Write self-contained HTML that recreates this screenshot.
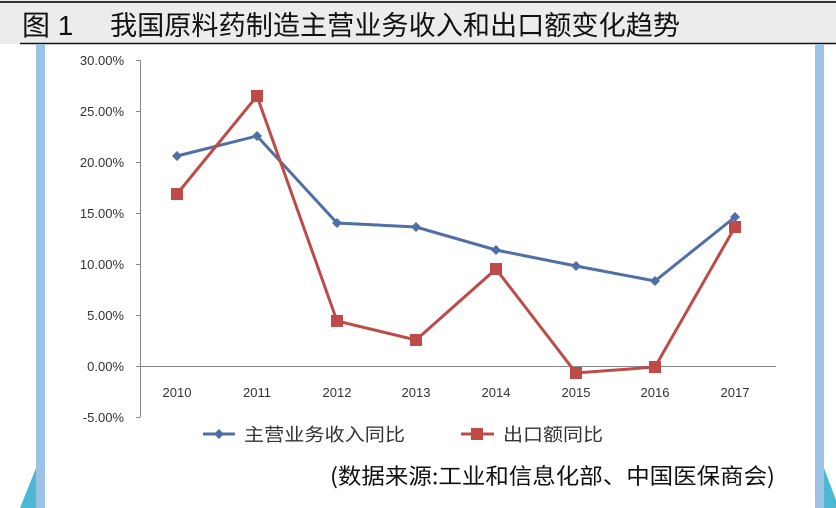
<!DOCTYPE html><html><head><meta charset="utf-8"><style>
body{margin:0;width:836px;height:508px;background:#fff;overflow:hidden;position:relative;font-family:"Liberation Sans","Noto Sans CJK SC",sans-serif}
</style></head><body>
<svg width="836" height="508" style="position:absolute;left:0;top:0">
<rect x="0" y="0" width="836" height="44" fill="#ececec"/>
<line x1="0" y1="2" x2="836" y2="2" stroke="#333" stroke-width="2"/>
<line x1="20" y1="43.5" x2="836" y2="43.5" stroke="#111" stroke-width="1.5"/>
<rect x="36" y="44" width="9" height="464" fill="#9cc3e6"/>
<rect x="815" y="44" width="9" height="464" fill="#9cc3e6"/>
<polygon points="36,468 20,508 36,508" fill="#4cb8d4"/>
<polygon points="824,468 836,500 836,508 824,508" fill="#4cb8d4"/>
<text x="22" y="35" font-size="28" font-family="Liberation Sans,Noto Sans CJK SC,sans-serif" fill="#111">图 1</text>
<text x="110" y="35" font-size="27" textLength="570" lengthAdjust="spacingAndGlyphs" font-family="Noto Sans CJK SC,sans-serif" fill="#111">我国原料药制造主营业务收入和出口额变化趋势</text>
<g stroke="#888" stroke-width="1">
<line x1="140.5" y1="60" x2="140.5" y2="417"/>
<line x1="136" y1="60.5" x2="140" y2="60.5"/><line x1="136" y1="111.5" x2="140" y2="111.5"/><line x1="136" y1="162.5" x2="140" y2="162.5"/><line x1="136" y1="213.5" x2="140" y2="213.5"/><line x1="136" y1="264.5" x2="140" y2="264.5"/><line x1="136" y1="315.5" x2="140" y2="315.5"/><line x1="136" y1="366.5" x2="140" y2="366.5"/><line x1="136" y1="417.5" x2="140" y2="417.5"/>
<line x1="140" y1="366.5" x2="776" y2="366.5"/>
</g>
<g font-size="13" fill="#333" text-anchor="end">
<text x="124" y="65">30.00%</text><text x="124" y="116">25.00%</text><text x="124" y="167">20.00%</text><text x="124" y="218">15.00%</text><text x="124" y="269">10.00%</text><text x="124" y="320">5.00%</text><text x="124" y="371">0.00%</text><text x="124" y="422">-5.00%</text>
</g>
<g font-size="13" fill="#333" text-anchor="middle">
<text x="177" y="397">2010</text><text x="257" y="397">2011</text><text x="337" y="397">2012</text><text x="416" y="397">2013</text><text x="496" y="397">2014</text><text x="576" y="397">2015</text><text x="655" y="397">2016</text><text x="735" y="397">2017</text>
</g>
<polyline points="177,156 257,136 337,223 416,227 496,250 576,266 655,281 735,217" fill="none" stroke="#4f6fa6" stroke-width="3"/>
<g fill="#4f6fa6">
<polygon points="177,151 182,156 177,161 172,156"/><polygon points="257,131 262,136 257,141 252,136"/><polygon points="337,218 342,223 337,228 332,223"/><polygon points="416,222 421,227 416,232 411,227"/><polygon points="496,245 501,250 496,255 491,250"/><polygon points="576,261 581,266 576,271 571,266"/><polygon points="655,276 660,281 655,286 650,281"/><polygon points="735,212 740,217 735,222 730,217"/>
</g>
<polyline points="177,194 257,96 337,321 416,340 496,269 576,373 655,367 735,227" fill="none" stroke="#be4b48" stroke-width="3"/>
<g fill="#be4b48">
<rect x="171" y="188" width="12" height="12"/><rect x="251" y="90" width="12" height="12"/><rect x="331" y="315" width="12" height="12"/><rect x="410" y="334" width="12" height="12"/><rect x="490" y="263" width="12" height="12"/><rect x="570" y="367" width="12" height="12"/><rect x="649" y="361" width="12" height="12"/><rect x="729" y="221" width="12" height="12"/>
</g>
<line x1="203" y1="434" x2="235" y2="434" stroke="#4f6fa6" stroke-width="3"/>
<polygon points="219,429 224,434 219,439 214,434" fill="#4f6fa6"/>
<text x="244" y="441" font-size="18" textLength="161" lengthAdjust="spacingAndGlyphs" fill="#333" font-family="Noto Sans CJK SC,sans-serif">主营业务收入同比</text>
<line x1="461" y1="434" x2="494" y2="434" stroke="#be4b48" stroke-width="3"/>
<rect x="471" y="428" width="12" height="12" fill="#be4b48"/>
<text x="503" y="441" font-size="18" textLength="100" lengthAdjust="spacingAndGlyphs" fill="#333" font-family="Noto Sans CJK SC,sans-serif">出口额同比</text>
<text x="330" y="484" font-size="22" textLength="445" lengthAdjust="spacingAndGlyphs" fill="#111" font-family="Noto Sans CJK SC,sans-serif">(数据来源:工业和信息化部、中国医保商会)</text>
</svg>
</body></html>
